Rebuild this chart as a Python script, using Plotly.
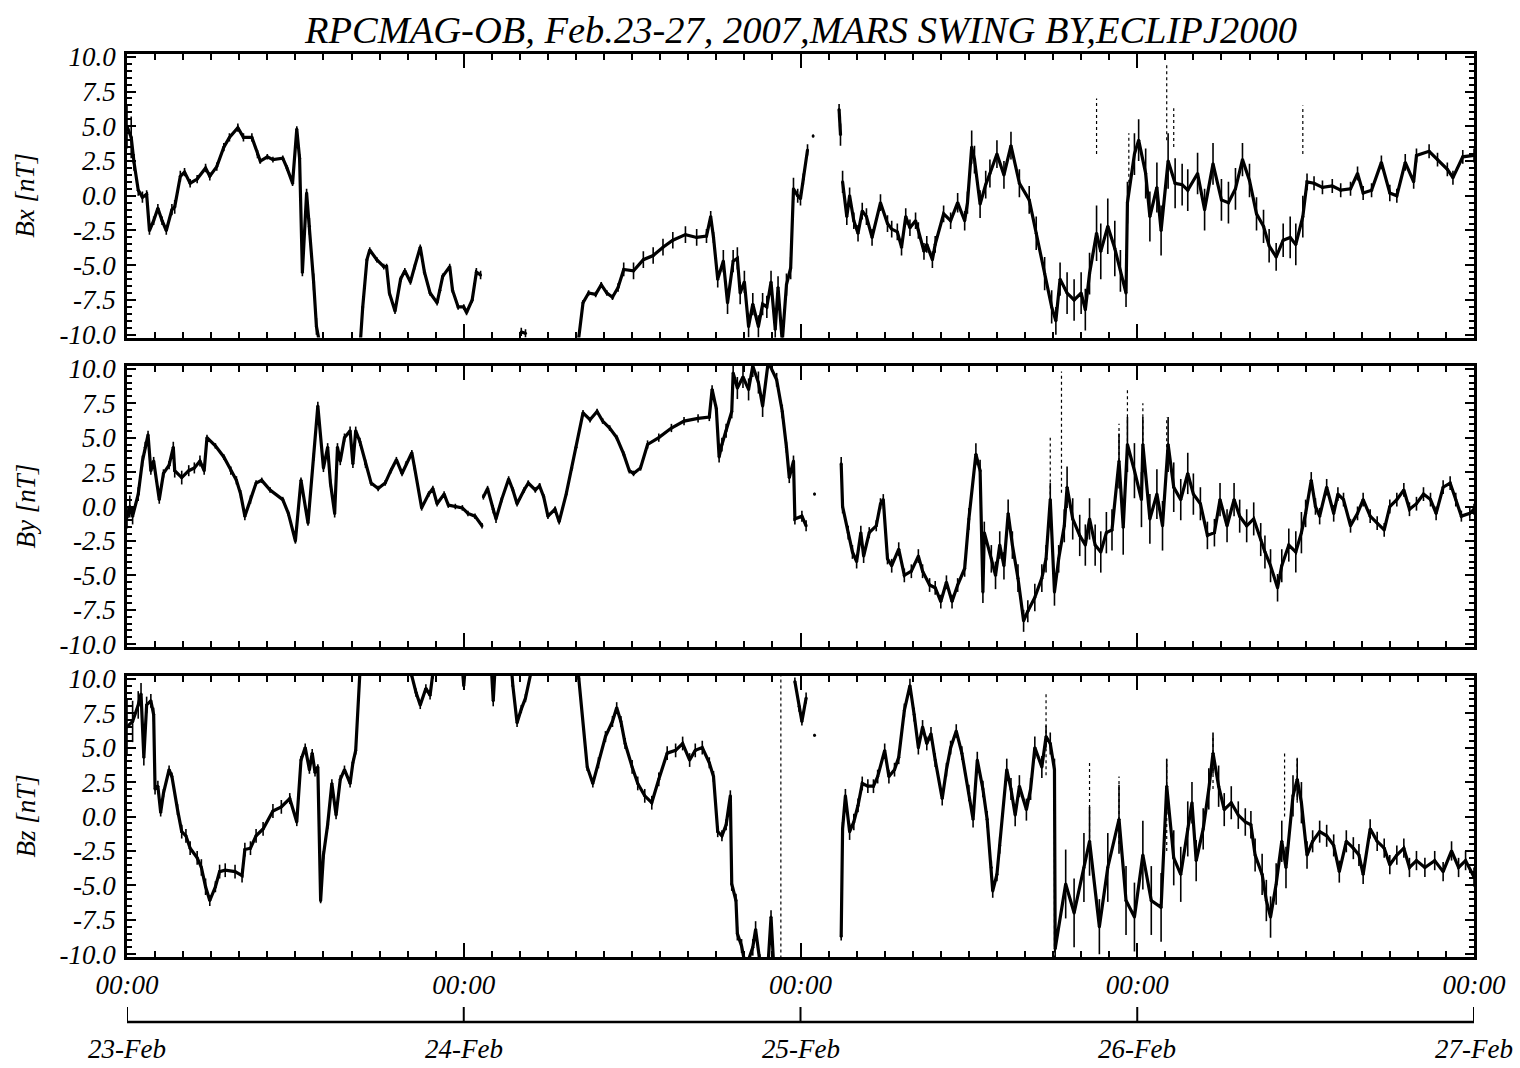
import plotly.graph_objects as go
from plotly.subplots import make_subplots

# ---------------- data (hours since 23-Feb 00:00) ----------------
# each row: (hour, value nT, half-spread of the dense scatter band nT); None value = data gap
BX = [
    (0.0, 5.0, 1.6), (0.3, 4.2, 1.5), (0.5, 2.4, 0.6), (0.8, 0.4, 0.4), (1.1, -0.1, 0.4), (1.4, 0.1, 0.3),
    (1.6, -2.5, 0.3), (1.9, -1.8, 0.3), (2.2, -0.9, 0.3), (2.5, -1.8, 0.3), (2.8, -2.5, 0.3), (3.2, -1.0, 0.4),
    (3.4, -0.8, 0.5), (3.8, 1.4, 0.4), (4.1, 1.7, 0.3), (4.5, 0.9, 0.3), (5.0, 1.2, 0.3), (5.6, 2.0, 0.3),
    (5.9, 1.4, 0.3), (6.4, 2.1, 0.3), (6.9, 3.5, 0.3), (7.3, 4.2, 0.3), (7.9, 4.9, 0.3), (8.3, 4.2, 0.3),
    (8.9, 4.2, 0.3), (9.3, 3.0, 0.3), (9.5, 2.5, 0.2), (10.0, 2.8, 0.2), (10.4, 2.6, 0.2), (11.1, 2.7, 0.2),
    (11.4, 2.0, 0.2), (11.8, 0.9, 0.2), (12.1, 4.8, 0.2), (12.3, 2.7, 0.3), (12.5, -5.5, 0.3), (12.8, 0.2, 0.3),
    (13.0, -2.2, 0.6), (13.3, -6.2, 0.6), (13.5, -9.4, 0.6), (13.8, -11.0, 0.0), (16.6, -11.0, 0.0),
    (16.8, -8.0, 0.0), (17.1, -4.6, 0.2), (17.3, -3.9, 0.2), (17.8, -4.6, 0.2), (18.3, -5.1, 0.2),
    (18.5, -5.1, 0.2), (18.7, -7.0, 0.2), (19.1, -8.3, 0.2), (19.5, -6.0, 0.2), (19.8, -5.4, 0.2),
    (20.2, -6.2, 0.2), (20.5, -5.1, 0.2), (20.9, -3.7, 0.2), (21.2, -5.5, 0.2), (21.6, -7.0, 0.2),
    (22.1, -7.7, 0.2), (22.3, -6.8, 0.2), (22.5, -5.8, 0.2), (23.0, -5.1, 0.2), (23.2, -6.8, 0.2),
    (23.6, -8.0, 0.2), (24.0, -8.0, 0.2), (24.2, -8.4, 0.2), (24.6, -7.5, 0.2), (24.9, -5.5, 0.3),
    (25.2, -5.7, 0.3), (25.3, None, 0.0), (28.1, -9.8, 0.3), (28.4, -9.9, 0.3), (28.5, None, 0.0),
    (32.1, -11.0, 0.0), (32.5, -7.7, 0.2), (32.9, -7.0, 0.2), (33.4, -7.1, 0.2), (33.8, -6.4, 0.2),
    (34.2, -7.0, 0.2), (34.6, -7.3, 0.2), (35.0, -6.6, 0.3), (35.4, -5.3, 0.5), (36.1, -5.4, 0.6),
    (36.8, -4.6, 0.6), (37.5, -4.3, 0.6), (38.2, -3.7, 0.6), (38.9, -3.2, 0.6), (39.8, -2.8, 0.6),
    (40.6, -3.0, 0.6), (41.3, -2.9, 0.5), (41.6, -1.5, 0.4), (41.8, -3.0, 0.4), (42.1, -6.0, 0.6),
    (42.5, -4.7, 0.8), (42.8, -7.7, 0.8), (43.2, -4.7, 0.8), (43.5, -4.5, 0.8), (43.7, -7.0, 0.8),
    (44.0, -6.2, 0.8), (44.3, -9.4, 0.8), (44.6, -7.8, 0.8), (45.0, -9.4, 0.8), (45.3, -7.8, 0.8),
    (45.6, -8.0, 0.8), (45.9, -6.2, 0.8), (46.2, -9.6, 0.8), (46.4, -6.6, 0.8), (46.7, -10.5, 0.8),
    (47.0, -6.4, 0.8), (47.3, -5.2, 0.8), (47.5, 0.5, 0.8), (47.8, 0.0, 0.5), (48.0, -0.2, 0.5),
    (48.2, 1.2, 0.4), (48.5, 3.3, 0.4), (48.6, None, 0.0), (48.9, 4.3, 0.1), (49.0, None, 0.0),
    (50.75, 6.2, 0.4), (50.85, 4.4, 0.8), (50.95, None, 0.0), (51.0, 1.0, 0.8), (51.3, -1.5, 0.6),
    (51.5, 0.0, 0.6), (51.8, -1.8, 0.6), (52.1, -2.7, 0.6), (52.4, -1.1, 0.6), (52.7, -1.5, 0.6),
    (53.1, -3.0, 0.6), (53.7, -0.5, 0.6), (54.2, -2.0, 0.6), (54.5, -2.4, 0.6), (54.9, -2.6, 0.6),
    (55.2, -3.7, 0.6), (55.5, -1.5, 0.6), (55.8, -2.3, 0.6), (56.2, -1.8, 0.6), (56.4, -2.5, 0.6),
    (56.8, -4.0, 0.6), (57.0, -3.5, 0.6), (57.4, -4.6, 0.6), (57.6, -3.5, 0.6), (58.2, -1.3, 0.6),
    (58.7, -1.8, 0.6), (59.2, -0.5, 0.7), (59.7, -1.8, 0.7), (59.9, -0.5, 0.8), (60.2, 3.5, 1.2),
    (60.4, 2.6, 1.0), (60.8, -0.6, 1.0), (61.2, 0.8, 1.0), (61.5, 1.6, 1.0), (62.0, 3.0, 1.0),
    (62.5, 1.5, 1.0), (63.0, 3.6, 1.0), (63.6, 0.9, 1.0), (64.3, -0.3, 1.0), (64.8, -2.7, 1.2),
    (65.4, -5.6, 1.2), (65.9, -8.0, 1.2), (66.2, -9.0, 1.0), (66.5, -6.0, 1.2), (67.0, -7.0, 1.5),
    (67.5, -7.5, 1.5), (68.0, -7.0, 1.5), (68.3, -8.2, 1.5), (68.6, -5.6, 1.5), (69.1, -2.7, 2.0),
    (69.4, -4.0, 2.0), (69.9, -2.2, 2.0), (70.4, -3.8, 2.0), (70.8, -5.4, 1.5), (71.2, -7.0, 1.0),
    (71.3, -0.5, 1.5), (71.8, 3.0, 1.5), (72.1, 4.0, 1.5), (72.6, 1.6, 1.8), (72.9, -1.5, 1.8),
    (73.4, 0.6, 1.8), (73.7, -2.5, 1.8), (74.2, 2.5, 2.0), (74.7, 0.9, 1.8), (75.2, 0.8, 1.5),
    (75.6, 0.4, 1.5), (76.3, 1.6, 1.5), (76.8, -1.0, 1.5), (77.4, 2.3, 1.5), (78.0, -0.3, 1.5),
    (78.5, -0.5, 1.5), (79.0, 0.5, 1.5), (79.5, 2.6, 1.2), (80.0, 1.1, 1.2), (80.5, -1.3, 1.2),
    (81.0, -2.2, 1.2), (81.4, -3.6, 1.2), (81.9, -4.4, 1.0), (82.4, -3.2, 1.2), (82.9, -3.0, 1.5),
    (83.3, -3.5, 1.5), (83.8, -1.5, 1.5), (84.1, 1.0, 0.6), (84.6, 0.9, 0.5), (85.2, 0.6, 0.5),
    (85.9, 0.7, 0.5), (86.5, 0.4, 0.5), (87.2, 0.5, 0.5), (87.7, 1.6, 0.5), (88.1, 0.2, 0.5),
    (88.7, 0.4, 0.5), (89.4, 2.4, 0.5), (90.0, 0.2, 0.6), (90.5, 0.0, 0.5), (91.1, 2.4, 0.6),
    (91.7, 1.0, 0.5), (91.9, 2.9, 0.5), (92.8, 3.2, 0.5), (93.4, 2.6, 0.5), (94.1, 1.9, 0.5),
    (94.5, 1.3, 0.5), (95.2, 2.8, 0.5), (96.0, 2.9, 0.5),
]

BY = [
    (0.0, -0.8, 0.8), (0.2, 0.0, 0.8), (0.4, -0.7, 0.6), (0.8, 0.9, 0.5), (1.1, 3.3, 0.4), (1.3, 4.3, 0.4),
    (1.5, 5.2, 0.3), (1.7, 2.6, 0.3), (1.9, 3.3, 0.3), (2.3, 0.5, 0.3), (2.6, 2.4, 0.3), (3.0, 3.0, 0.3),
    (3.3, 4.3, 0.4), (3.4, 2.6, 0.5), (3.9, 2.1, 0.5), (4.4, 2.6, 0.4), (4.8, 2.8, 0.4), (5.2, 3.3, 0.4),
    (5.5, 2.6, 0.3), (5.7, 5.0, 0.2), (6.3, 4.4, 0.2), (6.9, 3.6, 0.2), (7.4, 2.6, 0.3), (7.8, 1.9, 0.3),
    (8.1, 0.9, 0.3), (8.4, -0.7, 0.3), (8.8, 0.5, 0.3), (9.2, 1.7, 0.2), (9.6, 1.9, 0.2), (10.2, 1.2, 0.2),
    (11.1, 0.5, 0.2), (11.5, -0.5, 0.2), (12.0, -2.5, 0.2), (12.4, 1.9, 0.2), (12.9, -1.2, 0.2),
    (13.3, 3.6, 0.3), (13.6, 7.3, 0.3), (14.0, 2.8, 0.3), (14.3, 4.3, 0.3), (14.5, 1.7, 0.3),
    (14.8, -0.5, 0.3), (15.0, 4.3, 0.3), (15.2, 3.3, 0.3), (15.5, 5.0, 0.3), (15.9, 5.5, 0.3),
    (16.1, 3.1, 0.3), (16.3, 5.5, 0.3), (16.6, 4.7, 0.3), (17.0, 3.1, 0.3), (17.4, 1.7, 0.2),
    (17.9, 1.3, 0.2), (18.4, 1.7, 0.2), (18.8, 2.6, 0.2), (19.2, 3.4, 0.2), (19.6, 2.4, 0.2),
    (19.9, 3.1, 0.2), (20.3, 3.9, 0.2), (20.5, 2.8, 0.2), (21.0, -0.1, 0.2), (21.5, 0.9, 0.2),
    (21.8, 1.3, 0.2), (22.1, 0.2, 0.2), (22.6, 0.9, 0.2), (22.9, 0.1, 0.2), (23.4, 0.0, 0.2),
    (23.9, -0.1, 0.2), (24.3, -0.5, 0.2), (24.8, -0.7, 0.2), (25.3, -1.4, 0.2), (25.35, None, 0.0),
    (25.4, 0.7, 0.2), (25.7, 1.3, 0.2), (26.1, -0.2, 0.3), (26.3, -0.9, 0.3), (26.7, 0.5, 0.2),
    (27.2, 2.0, 0.2), (27.5, 1.2, 0.2), (27.8, 0.2, 0.2), (28.3, 1.2, 0.2), (28.6, 1.7, 0.2),
    (29.1, 1.2, 0.2), (29.4, 1.5, 0.2), (29.7, 0.7, 0.2), (30.0, -0.7, 0.2), (30.5, -0.2, 0.2),
    (30.8, -1.1, 0.2), (31.3, 0.9, 0.2), (31.7, 2.8, 0.2), (32.0, 4.3, 0.2), (32.5, 6.8, 0.2),
    (33.0, 6.3, 0.2), (33.5, 6.9, 0.2), (33.9, 6.2, 0.2), (34.4, 5.7, 0.2), (34.9, 5.0, 0.2),
    (35.4, 3.8, 0.2), (35.8, 2.6, 0.2), (36.1, 2.4, 0.2), (36.6, 2.8, 0.2), (37.1, 4.5, 0.3),
    (37.9, 5.0, 0.3), (38.8, 5.7, 0.3), (39.7, 6.2, 0.3), (40.7, 6.4, 0.3), (41.5, 6.5, 0.3),
    (41.7, 8.5, 0.3), (42.0, 7.1, 0.3), (42.2, 3.6, 0.4), (42.4, 4.5, 0.5), (42.7, 5.5, 0.5),
    (43.1, 6.9, 0.5), (43.2, 9.7, 0.5), (43.5, 8.6, 0.8), (43.9, 9.4, 0.8), (44.3, 8.5, 0.8),
    (44.6, 10.2, 0.8), (45.0, 9.0, 0.8), (45.3, 7.3, 0.8), (45.7, 10.5, 0.5), (46.3, 9.2, 0.5),
    (46.7, 6.9, 0.5), (47.0, 4.3, 0.4), (47.2, 2.1, 0.4), (47.5, 3.3, 0.4), (47.6, -0.9, 0.4),
    (48.1, -0.7, 0.4), (48.4, -1.4, 0.4), (48.5, None, 0.0), (49.0, 0.9, 0.1), (49.1, None, 0.0),
    (50.9, 3.1, 0.5), (51.0, 0.0, 0.5), (51.4, -1.9, 0.5), (51.7, -3.3, 0.5), (52.0, -4.0, 0.5),
    (52.3, -1.9, 0.5), (52.5, -3.6, 0.5), (52.9, -1.9, 0.4), (53.4, -1.4, 0.4), (53.7, 0.2, 0.4),
    (53.9, 0.5, 0.4), (54.2, -3.8, 0.4), (54.5, -4.3, 0.5), (55.0, -3.1, 0.5), (55.4, -5.0, 0.5),
    (55.9, -4.7, 0.5), (56.4, -3.6, 0.5), (56.7, -4.7, 0.5), (57.2, -5.7, 0.5), (57.6, -5.9, 0.5),
    (58.0, -6.9, 0.5), (58.4, -5.5, 0.5), (58.8, -6.9, 0.5), (59.2, -5.7, 0.5), (59.7, -4.5, 0.6),
    (60.0, -0.9, 0.8), (60.5, 3.8, 0.8), (60.8, 2.6, 0.8), (61.0, -6.2, 0.8), (61.1, -1.9, 0.8),
    (61.6, -3.8, 1.0), (61.9, -5.0, 1.0), (62.2, -2.8, 1.0), (62.5, -4.3, 1.0), (62.8, -0.5, 1.0),
    (63.1, -2.8, 1.0), (63.5, -5.2, 1.0), (63.9, -8.3, 0.8), (64.2, -7.6, 0.8), (64.7, -6.6, 1.0),
    (65.2, -5.2, 1.0), (65.5, -3.8, 1.0), (65.8, 0.5, 1.2), (66.1, -6.2, 1.0), (66.4, -3.8, 1.0),
    (66.8, -1.4, 1.2), (67.0, 1.4, 1.5), (67.4, -0.9, 1.5), (67.9, -2.1, 1.5), (68.3, -2.8, 1.5),
    (68.6, -0.9, 1.5), (69.0, -2.8, 1.5), (69.4, -3.3, 1.5), (69.8, -1.9, 1.5), (70.2, -1.7, 1.5),
    (70.7, 3.3, 2.0), (71.0, -1.5, 2.0), (71.3, 4.5, 2.0), (71.8, 2.6, 2.0), (72.3, 0.5, 2.0),
    (72.4, 4.5, 2.0), (72.9, -0.9, 1.8), (73.4, 0.9, 1.8), (73.8, -1.4, 1.8), (74.2, 4.5, 2.0),
    (74.6, 1.4, 1.8), (75.1, 0.5, 1.5), (75.6, 2.4, 1.5), (76.0, 0.9, 1.5), (76.5, 0.2, 1.2),
    (77.0, -2.1, 1.0), (77.5, -1.9, 1.0), (77.9, 0.5, 1.2), (78.4, -1.4, 1.2), (78.9, 0.5, 1.2),
    (79.3, -0.7, 1.2), (79.8, -1.4, 1.2), (80.3, -0.9, 1.2), (80.8, -2.4, 1.2), (81.1, -3.3, 1.2),
    (81.5, -4.3, 1.2), (82.0, -5.9, 1.0), (82.3, -4.3, 1.2), (82.8, -2.8, 1.2), (83.3, -3.3, 1.5),
    (83.7, -1.9, 1.5), (84.0, -0.5, 1.0), (84.4, 1.9, 0.6), (84.7, 0.0, 0.6), (85.0, -0.7, 0.6),
    (85.5, 1.4, 0.6), (86.0, -0.5, 0.6), (86.3, 0.9, 0.5), (86.7, 0.5, 0.5), (87.2, -1.4, 0.5),
    (87.7, -0.5, 0.5), (88.1, 0.5, 0.5), (88.6, -0.7, 0.5), (89.1, -1.2, 0.5), (89.6, -1.7, 0.5),
    (90.0, 0.0, 0.5), (90.5, 0.5, 0.5), (91.0, 1.2, 0.5), (91.4, -0.2, 0.5), (91.9, 0.2, 0.5),
    (92.4, 0.9, 0.5), (92.9, 0.5, 0.5), (93.3, -0.5, 0.5), (93.8, 1.4, 0.5), (94.3, 1.7, 0.5),
    (94.7, 0.5, 0.5), (95.1, -0.7, 0.4), (95.7, -0.5, 0.4), (96.0, -0.2, 0.4),
]

BZ = [
    (0.0, 6.5, 2.0), (0.4, 6.9, 1.5), (0.8, 8.1, 1.0), (1.0, 8.9, 0.8), (1.2, 4.3, 0.6), (1.4, 8.1, 0.6),
    (1.7, 8.4, 0.5), (1.9, 7.4, 0.5), (2.0, 2.0, 0.4), (2.2, 2.2, 0.4), (2.4, 0.3, 0.3), (2.6, 1.7, 0.3),
    (3.0, 3.4, 0.3), (3.2, 2.9, 0.3), (3.6, 0.5, 0.4), (3.9, -1.1, 0.5), (4.2, -1.4, 0.5), (4.5, -2.3, 0.5),
    (5.0, -3.0, 0.5), (5.3, -3.7, 0.6), (5.6, -5.1, 0.6), (5.9, -6.1, 0.4), (6.3, -5.1, 0.4),
    (6.6, -4.0, 0.5), (7.0, -3.9, 0.5), (7.7, -4.0, 0.5), (8.2, -4.3, 0.5), (8.4, -2.4, 0.5),
    (8.8, -2.3, 0.5), (9.2, -1.4, 0.5), (9.7, -0.9, 0.5), (10.4, 0.4, 0.5), (11.0, 0.7, 0.5),
    (11.6, 1.3, 0.4), (12.1, -0.4, 0.3), (12.4, 4.1, 0.3), (12.7, 5.0, 0.3), (13.0, 3.4, 0.3),
    (13.2, 4.6, 0.3), (13.4, 3.2, 0.3), (13.6, 3.6, 0.2), (13.8, -6.1, 0.2), (14.0, -2.8, 0.3),
    (14.3, -0.6, 0.3), (14.6, 2.4, 0.3), (14.9, 0.1, 0.3), (15.2, 2.7, 0.3), (15.5, 3.4, 0.3),
    (15.9, 2.4, 0.3), (16.1, 3.9, 0.3), (16.3, 4.8, 0.3), (16.6, 10.5, 0.0), (16.8, 12.0, 0.0),
    (20.1, 12.0, 0.0), (20.3, 10.2, 0.2), (20.6, 9.0, 0.3), (20.9, 8.1, 0.3), (21.3, 9.3, 0.3),
    (21.6, 8.8, 0.3), (21.8, 10.3, 0.3), (22.0, 12.0, 0.0), (23.8, 12.0, 0.0), (24.0, 9.5, 0.3),
    (24.2, 12.0, 0.0), (25.9, 12.0, 0.0), (26.1, 8.4, 0.4), (26.3, 12.0, 0.0), (27.3, 12.0, 0.0),
    (27.5, 9.5, 0.3), (27.8, 6.8, 0.3), (28.1, 7.8, 0.3), (28.4, 8.6, 0.3), (28.8, 10.5, 0.3),
    (29.0, 12.0, 0.0), (32.0, 12.0, 0.0), (32.2, 10.0, 0.3), (32.8, 3.6, 0.3), (33.2, 2.4, 0.3),
    (33.6, 3.9, 0.4), (34.1, 5.8, 0.4), (34.6, 6.9, 0.4), (34.9, 7.9, 0.4), (35.2, 6.9, 0.4),
    (35.5, 5.3, 0.4), (36.0, 3.6, 0.5), (36.4, 2.4, 0.5), (36.9, 1.5, 0.5), (37.4, 1.0, 0.5),
    (37.9, 2.7, 0.5), (38.5, 4.6, 0.5), (39.1, 4.8, 0.5), (39.6, 5.3, 0.5), (40.1, 4.1, 0.5),
    (40.5, 4.8, 0.5), (41.0, 5.0, 0.5), (41.5, 3.9, 0.4), (41.8, 2.9, 0.4), (42.1, -1.1, 0.4),
    (42.4, -1.4, 0.4), (42.7, -0.6, 0.4), (43.0, 1.5, 0.4), (43.1, -4.9, 0.5), (43.4, -6.1, 0.5),
    (43.5, -8.5, 0.5), (43.8, -9.4, 0.5), (44.1, -11.0, 0.0), (44.6, -9.5, 0.6), (44.8, -8.2, 0.6),
    (45.1, -10.5, 0.5), (45.7, -10.5, 0.5), (45.9, -7.3, 0.5), (46.1, -11.0, 0.0), (46.3, None, 0.0),
    (47.6, 9.8, 0.3), (47.9, 8.0, 0.4), (48.1, 6.9, 0.3), (48.4, 8.6, 0.4), (48.5, None, 0.0),
    (49.0, 5.9, 0.1), (49.1, None, 0.0), (50.9, -8.7, 0.3), (51.0, -0.9, 0.5), (51.2, 1.5, 0.5),
    (51.5, -1.1, 0.6), (51.8, -0.4, 0.6), (52.1, 0.8, 0.5), (52.4, 2.4, 0.5), (52.8, 2.2, 0.5),
    (53.2, 2.2, 0.5), (53.5, 2.9, 0.5), (54.0, 4.8, 0.5), (54.3, 2.9, 0.5), (54.7, 3.4, 0.5),
    (55.0, 4.3, 0.5), (55.4, 7.7, 0.5), (55.8, 9.5, 0.5), (56.1, 7.4, 0.5), (56.4, 5.0, 0.5),
    (56.7, 6.5, 0.5), (57.0, 5.3, 0.5), (57.3, 6.0, 0.5), (57.6, 4.1, 0.5), (58.1, 1.3, 0.5),
    (58.4, 3.4, 0.5), (58.7, 5.0, 0.5), (59.1, 6.2, 0.5), (59.5, 4.6, 0.5), (60.0, 1.7, 0.6),
    (60.3, -0.2, 0.6), (60.6, 4.1, 0.6), (61.0, 2.0, 0.6), (61.3, -0.2, 0.6), (61.6, -3.7, 0.5),
    (61.7, -5.4, 0.5), (62.0, -4.2, 0.5), (62.2, -2.1, 0.6), (62.7, 3.4, 0.8), (63.0, 2.0, 0.8),
    (63.3, 0.1, 0.8), (63.6, 2.2, 0.8), (64.1, 0.5, 0.8), (64.4, 2.0, 0.8), (64.7, 5.0, 0.8),
    (65.2, 3.6, 0.8), (65.5, 5.8, 0.8), (65.8, 5.3, 0.8), (66.1, 3.4, 0.8), (66.15, -9.6, 1.0),
    (66.9, -4.9, 2.5), (67.5, -7.0, 2.5), (68.2, -3.7, 2.5), (68.6, -1.8, 2.5), (69.3, -8.0, 2.0),
    (69.9, -3.7, 2.5), (70.7, -0.2, 2.5), (71.2, -6.1, 2.5), (71.8, -7.3, 2.5), (72.4, -2.8, 2.5),
    (73.0, -6.1, 2.5), (73.7, -6.6, 2.5), (74.1, 2.2, 2.0), (74.6, -3.0, 2.0), (75.1, -4.2, 2.0),
    (75.6, -0.9, 2.0), (75.9, 1.0, 1.5), (76.2, -3.2, 1.5), (76.7, -0.9, 1.5), (77.1, 2.0, 1.5),
    (77.4, 4.6, 1.5), (77.8, 2.2, 1.5), (78.2, 0.5, 1.2), (78.7, 1.0, 1.2), (79.2, 0.1, 1.0),
    (79.7, -0.4, 1.0), (80.1, -0.6, 1.0), (80.4, -2.8, 1.2), (80.9, -4.2, 1.5), (81.2, -6.1, 1.5),
    (81.5, -7.3, 1.5), (81.9, -4.9, 1.5), (82.3, -1.8, 1.5), (82.6, -3.7, 1.5), (83.1, 1.5, 1.5),
    (83.4, 2.7, 1.5), (83.7, 1.0, 1.5), (84.1, -2.8, 1.0), (84.5, -1.8, 0.8), (85.0, -1.1, 0.8),
    (85.5, -1.4, 0.8), (86.0, -2.1, 0.8), (86.4, -4.0, 0.8), (86.9, -1.8, 0.8), (87.4, -2.3, 0.8),
    (87.8, -2.8, 0.8), (88.1, -4.2, 0.7), (88.6, -0.9, 0.7), (89.1, -1.8, 0.7), (89.6, -2.3, 0.7),
    (90.0, -3.5, 0.7), (90.5, -2.8, 0.7), (91.0, -2.3, 0.7), (91.4, -3.7, 0.7), (91.9, -3.2, 0.7),
    (92.5, -3.7, 0.7), (93.2, -3.2, 0.7), (93.8, -4.0, 0.7), (94.4, -2.5, 0.7), (94.9, -3.7, 0.7),
    (95.4, -3.2, 0.7), (96.0, -4.4, 0.7),
]

# isolated sparse spikes: (hour, low nT, high nT)
BX_SPIKES = [(69.1, 3.0, 7.0), (74.1, 4.0, 9.5), (74.6, 3.5, 6.3), (83.8, 3.0, 6.5), (71.4, 0.5, 4.5)]
BY_SPIKES = [(66.6, 1.0, 9.8), (71.3, 3.0, 8.6), (72.4, 3.0, 7.5), (65.8, 0.0, 5.0),
             (74.1, 3.0, 6.5), (70.7, 2.0, 6.0)]
BZ_SPIKES = [(46.6, -10.3, 10.3), (65.5, 3.0, 9.1), (68.6, -2.0, 4.1), (70.7, -2.0, 2.9),
             (74.1, -2.5, 4.1), (66.1, -10.3, 3.4), (77.4, 2.0, 5.9), (82.5, 0.0, 4.6), (83.4, 1.0, 4.4)]

PANELS = [("Bx [nT]", BX, BX_SPIKES), ("By [nT]", BY, BY_SPIKES), ("Bz [nT]", BZ, BZ_SPIKES)]
Y_TICKS = [-10.0, -7.5, -5.0, -2.5, 0.0, 2.5, 5.0, 7.5, 10.0]
DAY_HOURS = [0, 24, 48, 72, 96]
TIME_LABELS = ["00:00", "00:00", "00:00", "00:00", "00:00"]
DAY_LABELS = ["23-Feb", "24-Feb", "25-Feb", "26-Feb", "27-Feb"]
TITLE = "RPCMAG-OB, Feb.23-27, 2007,MARS SWING BY,ECLIPJ2000"

# ---------------- figure ----------------
FONT = "Liberation Serif"
W, H = 1520, 1068
ML, MR, MT, MB = 127, 46, 54, 111
PH = H - MT - MB  # plot-area height in px


def ydom(top_px, bot_px):
    return [(H - MB - bot_px) / PH, (H - MB - top_px) / PH]


DOMAINS = [ydom(54, 337.5), ydom(366, 647), ydom(676, 957)]

fig = make_subplots(rows=3, cols=1)

for i, (name, rows, spikes) in enumerate(PANELS, start=1):
    t = [r[0] for r in rows]
    v = [r[1] for r in rows]
    s = [r[2] for r in rows]
    fig.add_trace(go.Scatter(x=t, y=v, mode="lines+markers", connectgaps=False,
                             line=dict(color="black", width=3.2),
                             marker=dict(color="black", size=3),
                             error_y=dict(type="data", array=s, symmetric=True, color="black",
                                          thickness=1.6, width=0),
                             hoverinfo="skip", showlegend=False), row=i, col=1)
    sx, sy = [], []
    for (h, lo, hi) in spikes:
        sx += [h, h, None]
        sy += [lo, hi, None]
    fig.add_trace(go.Scatter(x=sx, y=sy, mode="lines",
                             line=dict(color="black", width=1.2, dash="dot"),
                             hoverinfo="skip", showlegend=False), row=i, col=1)

    fig.update_xaxes(row=i, col=1, range=[0, 96], tickmode="array", tickvals=DAY_HOURS,
                     ticktext=TIME_LABELS, showticklabels=(i == 3),
                     ticks="inside", ticklen=14, tickwidth=2, tickcolor="black",
                     minor=dict(dtick=2, tick0=0, ticks="inside", ticklen=6, tickwidth=2,
                                tickcolor="black", showgrid=False),
                     showline=True, linewidth=2.5, linecolor="black", mirror="allticks",
                     showgrid=False, zeroline=False,
                     tickfont=dict(family=FONT, size=27, color="black", style="italic"),
                     ticklabelstandoff=2)
    fig.update_yaxes(row=i, col=1, range=[-10.2, 10.2], domain=DOMAINS[i - 1],
                     tickmode="array", tickvals=Y_TICKS, ticktext=[f"{y:.1f}" for y in Y_TICKS],
                     ticks="inside", ticklen=9, tickwidth=2, tickcolor="black",
                     minor=dict(dtick=0.5, tick0=0, ticks="inside", ticklen=5, tickwidth=1.5,
                                tickcolor="black", showgrid=False),
                     showline=True, linewidth=2.5, linecolor="black", mirror="allticks",
                     showgrid=False, zeroline=False,
                     tickfont=dict(family=FONT, size=27, color="black", style="italic"),
                     ticklabelstandoff=3)
    ymid = sum(DOMAINS[i - 1]) / 2
    fig.add_annotation(text=name, xref="paper", yref="paper", x=(25 - ML) / (W - ML - MR), y=ymid,
                       textangle=-90, showarrow=False, xanchor="center", yanchor="middle",
                       font=dict(family=FONT, size=27, color="black", style="italic"))

# separate date axis under the bottom panel
axis_y = (H - MB - 1022) / PH
tick_top = (H - MB - 1007) / PH
label_y = (H - MB - 1049) / PH
fig.add_shape(type="line", xref="x3", yref="paper", x0=DAY_HOURS[0], x1=DAY_HOURS[-1],
              y0=axis_y, y1=axis_y, line=dict(color="black", width=2.5))
for h, lab in zip(DAY_HOURS, DAY_LABELS):
    fig.add_shape(type="line", xref="x3", yref="paper", x0=h, x1=h, y0=axis_y, y1=tick_top,
                  line=dict(color="black", width=2))
    fig.add_annotation(text=lab, xref="x3", yref="paper", x=h, y=label_y, showarrow=False,
                       xanchor="center", yanchor="middle",
                       font=dict(family=FONT, size=27, color="black", style="italic"))

fig.add_annotation(text=TITLE, xref="paper", yref="paper", x=0.5, y=(H - MB - 30) / PH,
                   showarrow=False, xanchor="center", yanchor="middle",
                   font=dict(family=FONT, size=38.5, color="black", style="italic"))

fig.update_layout(width=W, height=H, margin=dict(l=ML, r=MR, t=MT, b=MB),
                  paper_bgcolor="white", plot_bgcolor="white", showlegend=False)

fig.write_html("out.html", config={"displayModeBar": False},
               post_script="document.body.style.margin='0px';document.body.style.overflow='hidden';")
